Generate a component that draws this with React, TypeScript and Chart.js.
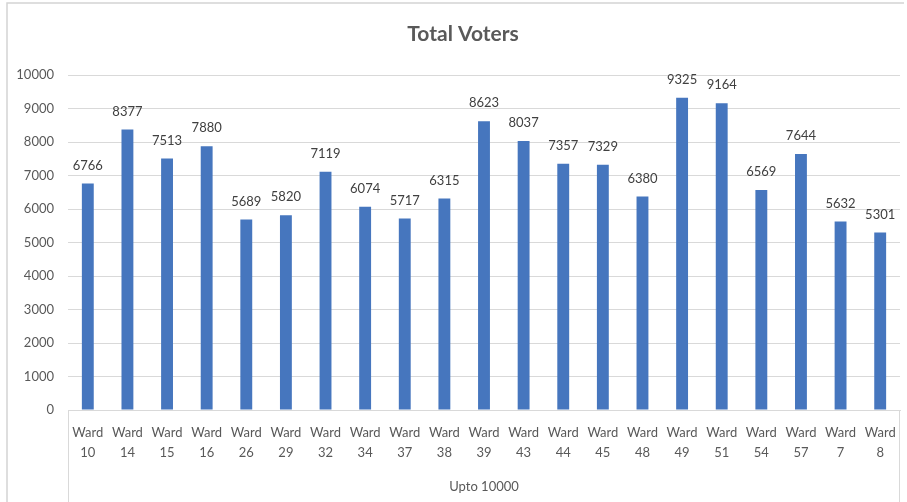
import React, { useEffect, useRef } from "react";
import { Chart, registerables } from "chart.js";

Chart.register(...registerables);

const wards: string[] = ["10", "14", "15", "16", "26", "29", "32", "34", "37", "38", "39", "43", "44", "45", "48", "49", "51", "54", "57", "7", "8"];
const voters: number[] = [6766, 8377, 7513, 7880, 5689, 5820, 7119, 6074, 5717, 6315, 8623, 8037, 7357, 7329, 6380, 9325, 9164, 6569, 7644, 5632, 5301];
const yTicks: number[] = [0, 1000, 2000, 3000, 4000, 5000, 6000, 7000, 8000, 9000, 10000];
const chartTitle = "Total Voters";
const groupLabel = "Upto 10000";

const FONT = "Lato, 'Open Sans', sans-serif";

const decorPlugin = {
  id: "decor",
  afterLayout(chart: any) {
    // shift title block so it centres over the whole framed chart
    const t = chart.titleBlock;
    if (t) t.left += 18;
  },
  beforeDraw(chart: any) {
    const { ctx, chartArea, height, width } = chart;
    ctx.save();
    ctx.strokeStyle = "#d4d4d4";
    ctx.lineWidth = 1.5;
    ctx.beginPath();
    ctx.moveTo(7, height);
    ctx.lineTo(7, 3);
    ctx.lineTo(width - 3, 3);
    ctx.stroke();
    ctx.strokeStyle = "#d9d9d9";
    ctx.lineWidth = 1;
    ctx.beginPath();
    ctx.moveTo(Math.round(chartArea.left) + 0.5, chartArea.bottom);
    ctx.lineTo(Math.round(chartArea.left) + 0.5, height);
    ctx.moveTo(Math.round(chartArea.right) - 0.5, chartArea.bottom);
    ctx.lineTo(Math.round(chartArea.right) - 0.5, height);
    ctx.stroke();
    ctx.restore();
  },
};

const valueLabelPlugin = {
  id: "valueLabels",
  afterDatasetsDraw(chart: any) {
    const { ctx } = chart;
    const meta = chart.getDatasetMeta(0);
    const data = chart.data.datasets[0].data as number[];
    ctx.save();
    ctx.font = `13px ${FONT}`;
    ctx.fillStyle = "#404040";
    ctx.textAlign = "center";
    ctx.textBaseline = "middle";
    meta.data.forEach((bar: any, i: number) => {
      ctx.fillText(String(data[i]), bar.x, bar.y - 18);
    });
    ctx.restore();
  },
};

export default function App() {
  const ref = useRef<HTMLCanvasElement | null>(null);

  useEffect(() => {
    document.body.style.margin = "0";
    document.body.style.overflow = "hidden";
    if (!ref.current) return;
    const chart = new Chart(ref.current, {
      type: "bar",
      data: {
        labels: wards.map((w) => ["Ward", w]),
        datasets: [
          {
            data: voters,
            backgroundColor: "#4676be",
            barPercentage: 0.3,
            categoryPercentage: 1,
          },
        ],
      },
      options: {
        responsive: false,
        animation: false,
        devicePixelRatio: 1,
        layout: { padding: { left: 8, right: 7, top: 0, bottom: 0 } },
        plugins: {
          legend: { display: false },
          tooltip: { enabled: false },
          title: {
            display: true,
            text: chartTitle,
            color: "#595959",
            font: { family: FONT, size: 21, weight: "bold" },
            padding: { top: 22, bottom: 28 },
          },
        },
        scales: {
          x: {
            grid: { display: false },
            border: { display: true, color: "#d9d9d9" },
            ticks: {
              color: "#595959",
              font: { family: FONT, size: 13, lineHeight: 1.55 },
              padding: 5,
              maxRotation: 0,
              autoSkip: false,
            },
            title: {
              display: true,
              text: groupLabel,
              color: "#595959",
              font: { family: FONT, size: 13 },
              padding: { top: 0, bottom: 7 },
            },
            afterFit(scale: any) {
              scale.height = 92;
            },
          },
          y: {
            min: 0,
            max: 10000,
            afterBuildTicks(scale: any) {
              scale.ticks = yTicks.map((v) => ({ value: v }));
            },
            grid: { color: "#d9d9d9", drawTicks: false },
            border: { display: false },
            ticks: {
              color: "#595959",
              font: { family: FONT, size: 13 },
              padding: 14,
              callback: (v: any) => String(v),
            },
            afterFit(scale: any) {
              scale.width = 60;
            },
          },
        },
      },
      plugins: [decorPlugin, valueLabelPlugin],
    });
    return () => chart.destroy();
  }, []);

  return (
    <div style={{ width: 907, height: 502, position: "relative" }}>
      <canvas ref={ref} width={907} height={502} />
    </div>
  );
}
